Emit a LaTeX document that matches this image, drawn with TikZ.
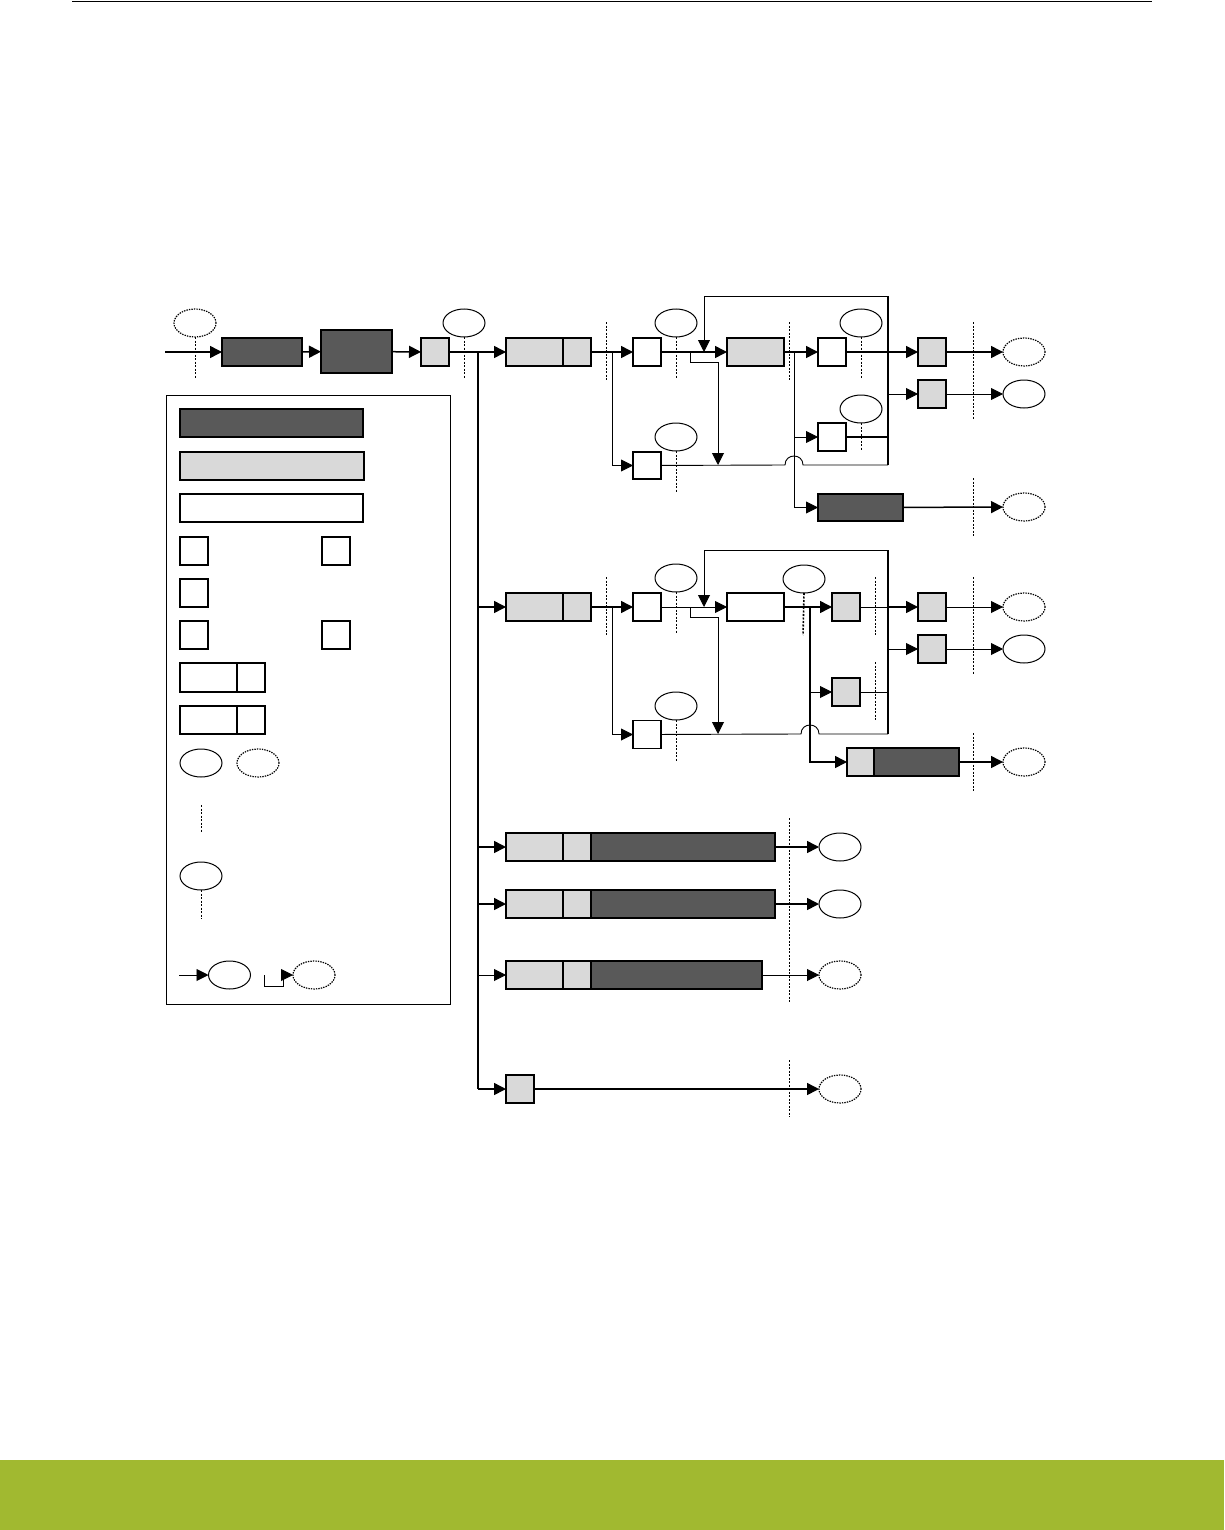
\documentclass[tikz,border=0pt]{standalone}
\usetikzlibrary{arrows.meta,shapes.geometric}
\definecolor{dkg}{RGB}{89,89,89}
\definecolor{ltg}{RGB}{217,217,217}
\definecolor{band}{RGB}{161,185,48}
\tikzset{
  bx/.style={rectangle,inner sep=0pt,outer sep=0pt,minimum width=28,minimum height=28,line width=1.3pt,draw=black},
  dk/.style={bx,fill=dkg,line width=1.6pt},
  lt/.style={bx,fill=ltg},
  wt/.style={bx,fill=white},
  sol/.style={ellipse,draw=black,line width=1pt,inner sep=0pt,outer sep=0pt,minimum width=42,minimum height=28},
  dsh/.style={sol,line width=1.2pt,dash pattern=on 1.4pt off 1.1pt},
  guide/.style={line width=0.8pt,dash pattern=on 2pt off 1.5pt},
  thk/.style={line width=1.5pt},
  thn/.style={line width=0.9pt},
  ar/.style={-{Triangle[length=12pt,width=12pt]}},
}
\begin{document}
\begin{tikzpicture}[x=1pt,y=-1pt]
\useasboundingbox (0,0) rectangle (1224,1530);
\fill[band] (0,1460) rectangle (1224,1530);
\draw[line width=1pt] (72,1.5) -- (1152,1.5);

% ---------- main chain ----------
\node[dsh] (inE) at (195,323) {};
\node[dk,minimum width=80] (d1) at (262,352) {};
\node[dk,minimum width=71,minimum height=43] (d2) at (356.5,351.5) {};
\node[lt] (s0) at (435,352) {};
\node[sol] (e0) at (464,323) {};
\draw[guide] (inE.south) -- (195,379);
\draw[guide] (e0.south) -- (464,379);
\coordinate (inS) at (165,352);
\draw[ar,thk] (inS) -- (d1);
\draw[ar,thk] (d1) -- (d2);
\draw[ar,thk] (d2) -- (s0);
\coordinate (t1) at (478,352);
\coordinate (t2) at (478,607);
\coordinate (t3) at (478,847);
\coordinate (t4) at (478,904);
\coordinate (t5) at (478,975);
\coordinate (t6) at (478,1089);
\draw[thk] (t1) -- (t6);

% ---------- branch 1 ----------
\node[lt,minimum width=57] (b1a) at (534.5,352) {};
\node[lt] (b1b) at (577,352) {};
\draw[ar,thk] (s0) -- (b1a);
\draw[guide] (606,322) -- (606,380);
\node[wt] (w1) at (647,352) {};
\node[sol] (e1) at (676,323) {};
\draw[guide] (e1.south) -- (676,379);
\node[wt,minimum height=27] (w1l) at (647,465.5) {};
\node[sol] (e1l) at (676,437) {};
\draw[guide] (e1l.south) -- (676,493);
\node[lt,minimum width=57] (c1) at (755.5,352) {};
\draw[guide] (789,322) -- (789,380);
\node[wt] (w1r) at (832,352) {};
\node[sol] (e1r) at (861,323) {};
\draw[guide] (e1r.south) -- (861,379);
\node[wt] (w1m) at (832,437) {};
\node[sol] (e1m) at (861,409) {};
\draw[guide] (e1m.south) -- (861,451);
\node[dk,minimum width=85,minimum height=27] (dk1) at (860.5,507.5) {};
\node[lt] (o1a) at (932,352) {};
\node[lt] (o1b) at (932,394) {};
\node[dsh] (f1a) at (1024,352) {};
\node[sol] (f1b) at (1024,394) {};
\node[dsh] (f1c) at (1024,507) {};
\draw[guide] (973,322) -- (973,420);
\draw[guide] (973,478) -- (973,536);

\draw[ar,thk] (b1b) -- (w1);
\coordinate (j1) at (612,352);
\draw[ar,thn] (j1) |- (w1l);
\draw[ar,thk] (w1) -- (c1);
\draw[ar,thk] (c1) -- (w1r);
\coordinate (fb1) at (888,465);
\draw[thk] (fb1) -- (888,296);
\draw[ar,thn] (888,296) -| (704,352);
\coordinate (k1) at (690,352);
\draw[ar,thn] (k1) -- (690,362) -| (718,465);
\draw[thn] (w1l) -- (785,465) .. controls (785,453) and (803,453) .. (803,465) -- (fb1);
\coordinate (m1) at (794,352);
\draw[ar,thn] (m1) |- (dk1);
\draw[ar,thn] (794,437) -- (w1m);
\draw[thk] (w1m) -- (888,437);
\draw[ar,thk] (w1r) -- (o1a);
\draw[ar,thn] (888,394) -- (o1b);
\draw[ar,thk] (o1a) -- (f1a);
\draw[ar,thn] (o1b) -- (f1b);
\draw[ar,thk] (dk1) -- (f1c);

% ---------- branch 2 ----------
\node[lt,minimum width=57] (b2a) at (534.5,607) {};
\node[lt] (b2b) at (577,607) {};
\draw[ar,thk] (t2) -- (b2a);
\draw[guide] (606,577) -- (606,635);
\node[wt] (w2) at (647,607) {};
\node[sol] (e2) at (676,578) {};
\draw[guide] (e2.south) -- (676,634);
\node[wt] (w2l) at (647,734.5) {};
\node[sol] (e2l) at (676,706) {};
\draw[guide] (e2l.south) -- (676,762);
\node[wt,minimum width=57] (c2) at (755.5,607) {};
\node[sol] (e2m) at (804,579) {};
\draw[guide,line width=1.6pt] (e2m.south) -- (803,635);
\node[lt] (q2a) at (846,607) {};
\node[lt] (q2b) at (846,692) {};
\draw[guide] (875,577) -- (875,635);
\draw[guide] (875,662) -- (875,720);
\node[lt,minimum width=27] (sb1) at (860.5,762) {};
\node[dk,minimum width=85] (sb2) at (916.5,762) {};
\node[lt] (o2a) at (932,607) {};
\node[lt] (o2b) at (932,649) {};
\node[dsh] (f2a) at (1024,607) {};
\node[sol] (f2b) at (1024,649) {};
\node[dsh] (f2c) at (1024,762) {};
\draw[guide] (973,577) -- (973,675);
\draw[guide] (973,733) -- (973,791);

\draw[ar,thk] (b2b) -- (w2);
\coordinate (j2) at (612,607);
\draw[ar,thn] (j2) |- (w2l);
\draw[ar,thn] (w2) -- (c2);
\coordinate (fb2) at (888,734);
\draw[thk] (fb2) -- (888,550);
\draw[ar,thn] (888,550) -| (704,607);
\coordinate (k2) at (690,607);
\draw[ar,thn] (k2) -- (690,617) -| (718,734);
\draw[thn] (w2l) -- (801,734) .. controls (801,722) and (819,722) .. (819,734) -- (fb2);
\draw[ar,thk] (c2) -- (q2a);
\coordinate (m2) at (810,607);
\draw[ar,thk] (m2) |- (sb1);
\draw[ar,thn] (810,692) -- (q2b);
\draw[thn] (q2b) -- (888,692);
\draw[thn] (q2a) -- (888,607);
\draw[ar,thk] (888,607) -- (o2a);
\draw[ar,thn] (888,649) -- (o2b);
\draw[ar,thn] (o2a) -- (f2a);
\draw[ar,thn] (o2b) -- (f2b);
\draw[ar,thk] (sb2) -- (f2c);

% ---------- branches 3-6 ----------
\node[lt,minimum width=57] (r3a) at (534.5,847) {};
\node[lt] (r3b) at (577,847) {};
\node[dk,minimum width=184] (r3c) at (683,847) {};
\node[sol] (f3) at (840,847) {};
\node[lt,minimum width=57] (r4a) at (534.5,904) {};
\node[lt] (r4b) at (577,904) {};
\node[dk,minimum width=184] (r4c) at (683,904) {};
\node[sol] (f4) at (840,904) {};
\node[lt,minimum width=57] (r5a) at (534.5,975) {};
\node[lt] (r5b) at (577,975) {};
\node[dk,minimum width=171] (r5c) at (676.5,975) {};
\node[dsh] (f5) at (840,975) {};
\node[lt] (r6) at (520,1089) {};
\node[dsh] (f6) at (840,1089) {};
\draw[guide] (789,818) -- (789,1003);
\draw[guide] (789,1060) -- (789,1117);
\draw[ar,thk] (t3) -- (r3a);
\draw[ar,thk] (t4) -- (r4a);
\draw[ar,thn] (t5) -- (r5a);
\draw[ar,thk] (t6) -- (r6);
\draw[ar,thk] (r3c) -- (f3);
\draw[ar,thk] (r4c) -- (f4);
\draw[ar,thn] (r5c) -- (f5);
\draw[ar,thk] (r6) -- (f6);

% ---------- legend ----------
\draw[line width=1pt] (166,395) rectangle (450,1004);
\node[dk,minimum width=183] (L1) at (271.5,423) {};
\node[lt,minimum width=184] (L2) at (272,466) {};
\node[wt,minimum width=183] (L3) at (271.5,508) {};
\node[wt] (L4a) at (194,551) {};
\node[wt] (L4b) at (336,551) {};
\node[wt,line width=1.7pt] (L5) at (194,593) {};
\node[wt] (L6a) at (194,635) {};
\node[wt] (L6b) at (336,635) {};
\node[wt,minimum width=57,minimum height=29] (L7a) at (208.5,677.5) {};
\node[wt,minimum height=29] (L7b) at (251,677.5) {};
\node[wt,minimum width=57] (L8a) at (208.5,720) {};
\node[wt] (L8b) at (251,720) {};
\node[sol] (L9a) at (201,763) {};
\node[dsh] (L9b) at (258,763) {};
\draw[guide] (201,805) -- (201,833);
\node[sol] (L10) at (201,876) {};
\draw[guide] (L10.south) -- (201,919);
\node[sol] (L11) at (229.5,975) {};
\coordinate (L11s) at (179,975);
\draw[ar,thn] (L11s) -- (L11);
\node[dsh] (L12) at (314,975) {};
\coordinate (L12s) at (264,975);
\draw[thn] (L12s) -- (264,986) -- (283,986) -- (283,975);
\draw[ar,thn] (281,975) -- (L12);
\end{tikzpicture}
\end{document}
